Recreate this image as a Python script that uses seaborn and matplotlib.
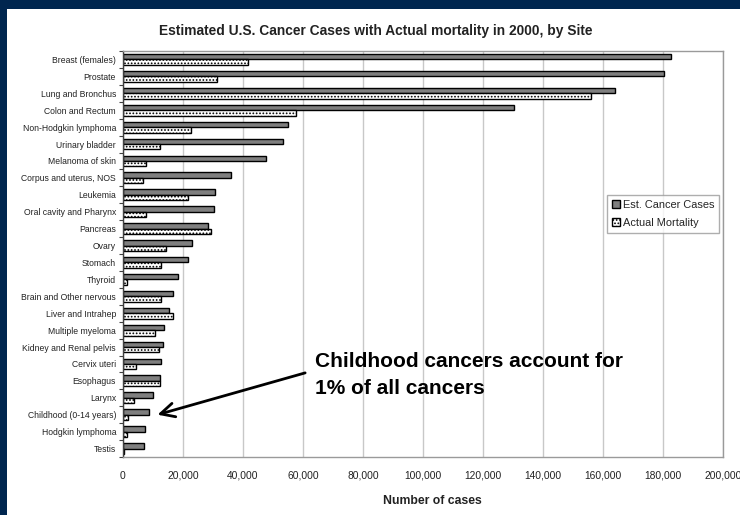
import numpy as np
import pandas as pd
import matplotlib
matplotlib.use("Agg")
import matplotlib.pyplot as plt
import matplotlib.patches as mpatches
from matplotlib.ticker import FuncFormatter, MultipleLocator
import seaborn as sns

sns.set_theme(style="white")
plt.rcParams['font.family'] = ['Liberation Sans', 'DejaVu Sans']
plt.rcParams['hatch.color'] = '#9a9a9a'
plt.rcParams['hatch.linewidth'] = 0.8

sites = [
    "Breast (females)", "Prostate", "Lung and Bronchus", "Colon and Rectum",
    "Non-Hodgkin lymphoma", "Urinary bladder", "Melanoma of skin",
    "Corpus and uterus, NOS", "Leukemia", "Oral cavity and Pharynx",
    "Pancreas", "Ovary", "Stomach", "Thyroid", "Brain and Other nervous",
    "Liver and Intrahep", "Multiple myeloma", "Kidney and Renal pelvis",
    "Cervix uteri", "Esophagus", "Larynx", "Childhood (0-14 years)",
    "Hodgkin lymphoma", "Testis",
]
est_cases = [182800, 180400, 164100, 130200, 54900, 53200, 47700, 36100,
             30800, 30200, 28300, 23100, 21500, 18400, 16500, 15300, 13600,
             13200, 12800, 12300, 10100, 8600, 7400, 6900]
mortality = [41800, 31300, 156000, 57500, 22700, 12300, 7500, 6600,
             21500, 7600, 29400, 14400, 12700, 1200, 12700, 16600, 10700,
             12100, 4400, 12200, 3800, 1500, 1300, 300]

series = ["Est. Cancer Cases", "Actual Mortality"]
df = pd.DataFrame({
    "Site": sites * 2,
    "Cases": est_cases + mortality,
    "Series": [series[0]] * len(sites) + [series[1]] * len(sites),
})

fig = plt.figure(figsize=(7.4, 5.15), dpi=100)
fig.patch.set_facecolor('#00264f')
# white slide area
fig.add_artist(mpatches.Rectangle((7 / 740, 0), 1, 1 - 9 / 515,
                                  transform=fig.transFigure,
                                  facecolor='white', edgecolor='none', zorder=0))

ax = fig.add_axes([123 / 740, 1 - 457 / 515, 600 / 740, 406 / 515])
ax.set_zorder(2)

sns.barplot(data=df, x="Cases", y="Site", hue="Series", orient="h",
            palette=['#7f7f7f', 'white'], width=0.64, dodge=True,
            edgecolor='black', linewidth=1.0, ax=ax, legend=False)

# dotted fill on the mortality bars
n = len(sites)
for i, bar in enumerate(ax.patches):
    if i >= n:
        bar.set_hatch('.....')

ax.set_xlim(0, 200000)
ax.set_ylim(len(sites) - 0.5, -0.5)
ax.xaxis.set_major_locator(MultipleLocator(20000))
ax.xaxis.set_major_formatter(FuncFormatter(lambda v, p: f"{int(v):,}"))
ax.grid(axis='x', color='#c8c8c8', linewidth=1.0)
ax.set_axisbelow(True)

for s in ['top', 'right', 'bottom']:
    ax.spines[s].set_color('#9a9a9a')
    ax.spines[s].set_linewidth(1.0)
ax.spines['left'].set_color('#404040')
ax.spines['left'].set_linewidth(1.0)

ax.tick_params(axis='y', which='major', length=0, labelsize=6.2, pad=5,
               colors='#222222')
ax.set_yticks(np.arange(len(sites) + 1) - 0.5, minor=True)
ax.tick_params(axis='y', which='minor', length=3, color='#404040', width=0.8,
               left=True)
ax.tick_params(axis='x', length=0, labelsize=7.4, pad=10, colors='#222222')

ax.set_ylabel("")
ax.set_xlabel("Number of cases", fontsize=8.8, fontweight='bold', color='#222222')
ax.xaxis.set_label_coords((432 - 123) / 600, -(495 - 457) / 406)
fig.text(376 / 740, 1 - 31 / 515,
         "Estimated U.S. Cancer Cases with Actual mortality in 2000, by Site",
         fontsize=9.9, fontweight='bold', color='#222222', ha='center', va='center')

handles = [mpatches.Patch(facecolor='#7f7f7f', edgecolor='black', label=series[0]),
           mpatches.Patch(facecolor='white', edgecolor='black', hatch='.....',
                          label=series[1])]
ax.legend(handles=handles, loc='upper left', bbox_to_anchor=(484 / 600, 1 - 144 / 406),
          fontsize=7.9, frameon=True, fancybox=False, edgecolor='#9a9a9a',
          handlelength=0.75, handleheight=0.75, handletextpad=0.25,
          borderpad=0.45, labelspacing=0.75, borderaxespad=0)

# childhood callout
child = sites.index("Childhood (0-14 years)")
ax.annotate("Childhood cancers account for\n1% of all cancers",
            xy=(11500, child), xytext=(315, 515 - 352), textcoords='figure pixels',
            fontsize=15, fontweight='bold', color='black', ha='left', va='top',
            linespacing=1.56,
            arrowprops=dict(arrowstyle='->,head_length=0.5,head_width=0.25',
                            color='black', lw=2.0,
                            mutation_scale=20, shrinkA=0, shrinkB=0,
                            relpos=(-0.032, 0.55)))

fig.savefig("out.png", dpi=100, facecolor=fig.get_facecolor())
